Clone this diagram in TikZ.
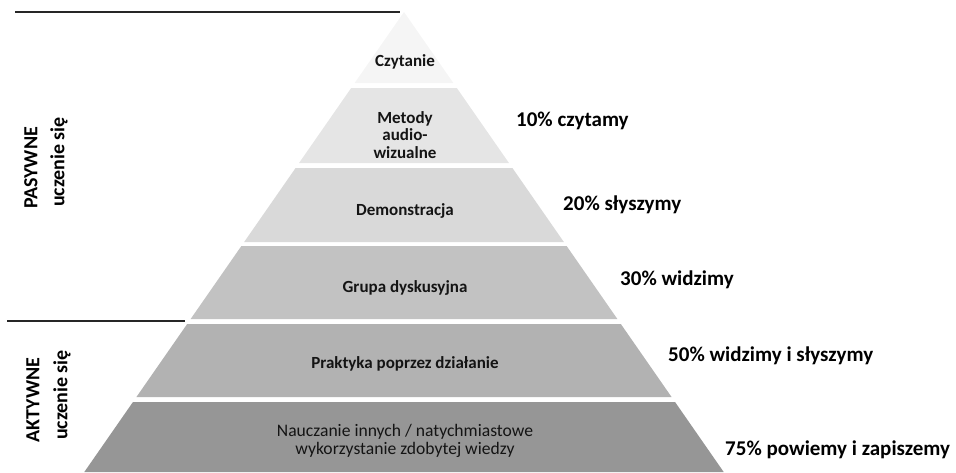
\documentclass[tikz,border=0pt]{standalone}
\usepackage{fontspec}
\setmainfont{Carlito}
\begin{document}
\begin{tikzpicture}[x=1pt,y=-1pt,
  lvl/.style={font=\fontsize{17}{18}\selectfont\bfseries, align=center, text=black!92},
  lvlreg/.style={font=\fontsize{17.6}{18.5}\selectfont, align=center, text=black!92},
  pct/.style={font=\fontsize{21}{24}\selectfont\bfseries, anchor=west, inner sep=0pt},
  side/.style={font=\fontsize{20}{24}\selectfont\bfseries, rotate=90, inner sep=0pt},
  rule/.style={line width=1.3pt, black!85}]
\useasboundingbox (0,0) rectangle (956,472);
% pyramid slices: apex (404,12), half-width grows 0.695 per unit of depth
\newcommand\slice[3]{%
  \fill[#3] ({404-0.695*(#1-12)},#1) -- ({404+0.695*(#1-12)},#1)
    -- ({404+0.695*(#2-12)},#2) -- ({404-0.695*(#2-12)},#2) -- cycle;}
\slice{12}{83}{black!4}
\slice{88}{163}{black!10}
\slice{168}{242}{black!15}
\slice{246}{319}{black!24}
\slice{324}{397}{black!30}
\slice{402}{472}{black!41}
% slice labels
\node[lvl] (read) at (405,62) {Czytanie};
\node[lvl, text width=80pt, font=\fontsize{17}{17.5}\selectfont\bfseries] (av) at (405,135) {Metody\\audio-\\wizualne};
\node[lvl] (demo) at (405,211) {Demonstracja};
\node[lvl] (group) at (405,288) {Grupa dyskusyjna};
\node[lvl] (practice) at (405,364) {Praktyka poprzez działanie};
\node[lvlreg] (teach) at (405,441) {Nauczanie innych / natychmiastowe\\wykorzystanie zdobytej wiedzy};
% retention percentages
\node[pct] (p10) at (516,121) {10\% czytamy};
\node[pct] (p20) at (563,205) {20\% słyszymy};
\node[pct] (p30) at (620,280) {30\% widzimy};
\node[pct] (p50) at (668,356) {50\% widzimy i słyszymy};
\node[pct] (p75) at (725,450) {75\% powiemy i zapiszemy};
% section rules
\coordinate (topL) at (15,12);
\coordinate (topR) at (400,12);
\coordinate (midL) at (7,321);
\coordinate (midR) at (185,321);
\draw[rule] (topL) -- (topR);
\draw[rule] (midL) -- (midR);
% side labels
\node[side] (pas1) at (31,168) {PASYWNE};
\node[side] (pas2) at (59,162) {uczenie się};
\node[side] (akt1) at (33,400) {AKTYWNE};
\node[side] (akt2) at (62,395) {uczenie się};
\end{tikzpicture}
\end{document}
